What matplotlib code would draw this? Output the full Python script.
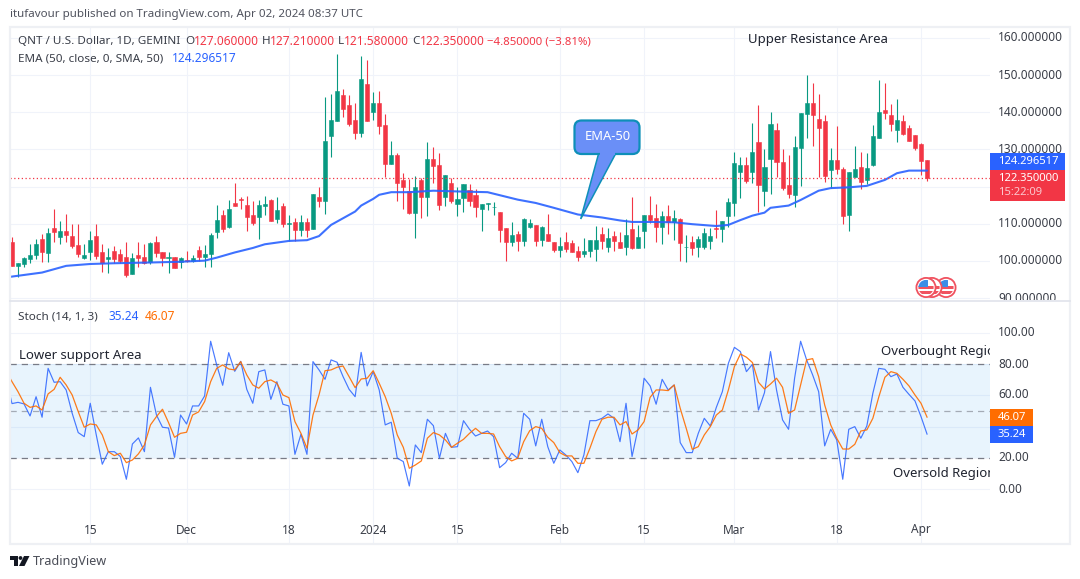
#!/usr/bin/env python3

import matplotlib
matplotlib.use("Agg")
import matplotlib.pyplot as plt
import numpy as np
from matplotlib.patches import Rectangle, Circle, Polygon, FancyBboxPatch

plt.rcParams['font.family'] = ['Noto Sans', 'DejaVu Sans']

### daily candles, index 0 is 2023-11-02, last one is 2024-04-02 ###
opens = [105.1, 98.7, 99.2, 100.5, 101.6, 105.9, 102.2, 108.9, 106.5, 108.1,
         106.7, 104.3, 100.7, 102.5, 106.7, 102.5, 100.5, 102.7, 101.9, 101.1,
         96.5, 101.6, 101.1, 99.6, 105.1, 102.4, 100.9, 101.1, 99.6, 100.2,
         100.0, 103.0, 101.2, 101.9, 107.9, 112.4, 109.2, 115.6, 116.7, 115.0,
         112.4, 111.7, 114.9, 116.5, 111.3, 114.8, 109.9, 110.5, 108.3, 110.5,
         108.6, 117.3, 116.0, 133.6, 137.5, 144.6, 141.9, 137.9, 134.5, 147.6,
         140.1, 142.4, 136.6, 126.2, 128.5, 121.8, 118.8, 113.0, 121.8, 117.3,
         127.4, 125.8, 117.3, 121.0, 115.3, 116.9, 119.1, 117.7, 114.1, 115.2,
         114.5, 113.2, 108.9, 105.2, 107.3, 105.5, 109.1, 109.7, 105.6, 107.3,
         105.1, 103.0, 105.1, 104.8, 102.7, 101.8, 102.7, 103.2, 107.3, 103.8,
         106.7, 105.1, 103.9, 108.6, 103.6, 108.1, 112.4, 111.5, 109.1, 112.1,
         110.6, 111.3, 103.7, 105.1, 103.8, 103.8, 105.4, 108.9, 108.6, 112.1,
         115.7, 123.9, 125.8, 123.9, 132.0, 118.8, 127.4, 135.2, 126.6, 120.4,
         117.7, 130.4, 139.5, 142.5, 138.2, 137.6, 124.5, 127.2, 124.7, 112.4,
         122.6, 125.3, 121.8, 125.8, 133.1, 140.6, 139.2, 135.2, 137.6, 135.8,
         133.9, 131.5, 127.06]
highs = [106.4, 99.4, 101.2, 104.6, 105.9, 107.3, 108.8, 114.0, 110.8, 112.6,
         110.0, 110.0, 104.6, 108.2, 110.0, 104.6, 103.4, 104.0, 103.1, 105.2,
         102.2, 105.2, 104.7, 105.2, 106.7, 102.4, 102.3, 101.1, 101.0, 102.8,
         101.6, 104.0, 104.3, 107.6, 115.0, 113.7, 116.4, 121.0, 117.3, 117.5,
         116.2, 116.4, 117.6, 116.7, 117.3, 115.5, 112.4, 111.5, 112.5, 111.5,
         118.0, 120.0, 144.0, 144.9, 155.6, 146.2, 144.6, 142.4, 155.0, 154.0,
         145.3, 145.7, 139.5, 132.3, 129.0, 123.6, 122.0, 122.8, 122.2, 131.9,
         130.6, 128.9, 123.1, 122.2, 120.0, 120.7, 120.6, 119.3, 115.2, 115.6,
         115.9, 113.2, 108.9, 110.4, 108.2, 111.5, 111.3, 109.7, 109.4, 112.6,
         105.1, 106.5, 107.7, 105.6, 104.0, 106.1, 105.6, 109.4, 109.2, 108.9,
         108.2, 107.9, 111.3, 117.1, 109.7, 112.4, 117.5, 115.3, 113.4, 115.0,
         113.7, 111.5, 107.0, 106.7, 106.7, 108.8, 108.8, 113.7, 110.8, 117.0,
         129.3, 127.9, 127.9, 137.1, 141.9, 130.1, 140.1, 137.0, 130.1, 128.5,
         133.6, 139.8, 150.0, 147.8, 144.9, 139.2, 130.4, 136.3, 125.3, 123.9,
         130.9, 129.3, 129.0, 136.6, 148.7, 147.8, 142.2, 143.5, 139.2, 136.6,
         133.9, 131.7, 127.21]
lows = [98.7, 95.6, 98.5, 99.4, 100.5, 99.8, 99.8, 105.2, 104.6, 105.2,
        103.4, 101.2, 100.5, 100.3, 100.5, 97.1, 96.9, 99.4, 99.4, 95.6,
        96.5, 98.5, 99.2, 99.2, 101.2, 98.7, 96.9, 98.2, 98.2, 99.8,
        99.8, 100.0, 98.3, 98.3, 106.3, 107.9, 109.0, 114.8, 113.9, 108.2,
        109.7, 105.9, 112.4, 110.7, 110.1, 109.2, 105.5, 105.5, 106.8, 106.5,
        108.6, 114.6, 112.6, 128.0, 137.5, 138.8, 136.3, 132.8, 133.2, 137.7,
        137.9, 134.1, 122.7, 126.2, 116.1, 113.9, 112.6, 106.3, 111.6, 112.2,
        121.0, 113.7, 114.8, 115.7, 112.2, 113.3, 114.8, 111.9, 108.1, 113.7,
        112.4, 105.2, 100.1, 104.0, 102.8, 104.1, 108.8, 104.0, 104.0, 105.5,
        102.3, 101.2, 102.3, 102.5, 100.1, 101.2, 101.2, 100.1, 103.2, 102.5,
        102.8, 103.4, 101.6, 103.1, 103.6, 103.6, 110.1, 105.1, 104.6, 107.3,
        105.6, 100.1, 99.6, 101.6, 101.2, 103.2, 103.2, 106.3, 105.2, 109.2,
        112.1, 116.9, 121.1, 121.0, 113.2, 114.8, 118.0, 122.6, 119.1, 116.9,
        114.6, 120.2, 133.1, 130.9, 122.6, 121.2, 119.6, 123.4, 109.9, 108.1,
        122.6, 119.4, 120.7, 125.5, 133.1, 138.2, 134.9, 132.0, 133.9, 132.3,
        129.8, 123.1, 121.58]
closes = [98.7, 99.4, 100.8, 101.6, 104.6, 102.5, 107.4, 107.9, 108.1, 107.0,
          104.0, 101.9, 101.6, 105.6, 101.4, 99.4, 101.1, 100.5, 100.1, 96.3,
          100.8, 100.8, 99.4, 104.8, 102.2, 100.9, 101.0, 98.2, 100.7, 100.0,
          100.7, 101.2, 102.0, 107.0, 111.0, 108.7, 114.0, 114.8, 116.5, 111.9,
          110.3, 115.0, 115.3, 110.8, 113.7, 110.0, 110.1, 108.3, 110.5, 108.3,
          118.0, 116.1, 132.3, 137.9, 145.7, 140.9, 136.8, 134.5, 149.0, 137.7,
          142.4, 136.4, 126.2, 128.5, 121.1, 119.9, 112.8, 119.9, 117.3, 127.4,
          125.6, 115.0, 123.1, 116.2, 116.7, 120.7, 116.0, 114.6, 115.2, 115.6,
          114.6, 108.4, 105.2, 107.0, 105.5, 111.3, 110.1, 105.5, 109.1, 105.5,
          103.0, 104.0, 103.2, 102.5, 101.2, 102.7, 105.6, 105.6, 105.5, 106.2,
          105.5, 103.6, 107.0, 103.4, 106.5, 112.4, 111.0, 109.1, 112.1, 110.6,
          111.6, 104.8, 103.8, 103.6, 105.9, 107.5, 106.7, 108.7, 110.8, 115.9,
          126.3, 125.8, 121.5, 129.3, 120.4, 125.3, 136.8, 126.6, 119.6, 118.0,
          130.6, 139.8, 142.5, 139.2, 135.8, 122.8, 127.2, 124.7, 112.1, 123.9,
          124.7, 121.2, 125.0, 133.6, 140.1, 139.8, 136.8, 137.9, 134.1, 132.3,
          130.4, 126.9, 122.35]

ema_days = [-1, 5, 9, 13, 17, 23, 28, 32, 34, 37, 40, 42, 46, 49, 51, 53, 55, 57, 58, 60,
            61, 63, 66, 70, 74, 79, 81, 84, 87, 90, 94, 98, 101, 103, 106, 110, 113, 117,
            119, 121, 123, 125, 126, 129, 131, 134, 136, 139, 142, 145, 147, 149, 152]
ema_values = [95.6, 96.9, 98.7, 99.2, 99.4, 99.6, 99.8, 100.1, 100.9, 102.3, 103.5, 104.5,
              105.4, 105.6, 106.7, 109.7, 111.5, 113.3, 114.9, 116.7, 117.8, 118.5, 118.5,
              118.9, 118.7, 118.5, 117.7, 116.5, 115.6, 114.3, 112.5, 111.7, 110.9, 110.5,
              110.5, 110.4, 109.9, 109.4, 109.7, 111.0, 112.2, 113.0, 114.3, 114.9, 116.4,
              118.9, 119.6, 119.8, 120.2, 121.8, 123.6, 124.3, 124.3]

### stochastic, starts one day before the first candle ###
stoch_k = [71.0, 54.7, 55.5, 54.5, 46.8, 59.1, 46.0, 77.2, 68.3, 68.7, 63.4,
           48.5, 36.2, 33.6, 54.9, 34.7, 16.0, 24.0, 24.0, 20.9, 6.4,
           28.9, 32.8, 24.0, 65.1, 47.4, 39.6, 39.1, 20.4, 47.4, 41.7,
           53.2, 53.2, 59.6, 94.5, 79.4, 66.4, 87.2, 75.3, 81.7, 63.8,
           54.9, 75.1, 76.2, 57.4, 68.7, 54.3, 53.2, 22.3, 35.1, 22.3,
           81.5, 76.2, 70.2, 82.6, 81.1, 71.9, 63.8, 59.1, 87.4, 66.0,
           75.1, 63.4, 41.1, 42.8, 19.8, 17.7, 2.1, 28.3, 23.4, 44.7,
           40.6, 19.8, 35.7, 26.8, 27.2, 43.8, 38.3, 34.0, 35.7, 37.2,
           33.6, 13.8, 17.0, 23.0, 19.8, 48.5, 44.7, 27.7, 44.7, 27.2,
           16.6, 25.1, 21.9, 17.7, 10.6, 21.9, 43.8, 43.8, 45.3, 48.1,
           45.3, 30.4, 54.9, 20.9, 38.9, 70.9, 66.0, 54.3, 70.2, 63.4,
           66.6, 29.8, 23.4, 23.4, 35.7, 45.3, 40.4, 52.3, 62.3, 80.4,
           90.6, 87.9, 75.1, 79.8, 50.6, 61.7, 87.9, 63.4, 44.3, 38.3,
           70.9, 94.5, 82.6, 73.0, 62.3, 27.7, 38.3, 31.5, 6.4, 38.3,
           40.0, 32.6, 40.4, 61.3, 77.2, 76.6, 71.9, 73.6, 65.1, 60.6,
           56.4, 46.4, 35.24]
stoch_d = [75.5, 68.7, 62.3, 54.9, 52.3, 53.2, 50.6, 60.9, 63.8, 71.5, 66.6,
           60.2, 49.6, 39.6, 41.7, 41.1, 34.7, 24.0, 21.5, 23.0, 17.0,
           18.7, 22.6, 28.3, 41.1, 46.4, 51.1, 42.6, 33.2, 35.7, 36.4,
           47.4, 49.4, 56.0, 68.7, 77.2, 79.4, 76.8, 76.2, 81.5, 73.0,
           66.6, 64.5, 68.7, 69.8, 67.7, 60.2, 58.5, 43.2, 35.7, 26.2,
           47.4, 60.2, 75.7, 76.2, 77.9, 78.7, 71.9, 64.9, 70.4, 70.9,
           75.7, 67.7, 59.1, 48.5, 34.7, 26.8, 13.4, 15.5, 18.1, 32.6,
           36.2, 34.7, 31.5, 26.8, 29.4, 31.9, 35.7, 38.9, 35.7, 35.7,
           35.3, 27.2, 20.9, 18.1, 19.8, 30.4, 37.4, 40.0, 38.9, 33.2,
           29.8, 23.4, 21.3, 21.3, 16.6, 16.6, 26.2, 36.8, 44.7, 46.0,
           46.0, 41.1, 43.2, 35.3, 37.9, 43.2, 58.7, 63.4, 63.4, 63.0,
           66.6, 51.7, 38.9, 25.5, 27.2, 34.7, 40.0, 47.4, 50.6, 63.4,
           78.3, 86.4, 84.3, 80.9, 68.3, 64.0, 67.2, 70.9, 65.1, 48.5,
           50.6, 66.6, 82.6, 83.4, 71.9, 53.8, 41.1, 32.6, 25.7, 25.7,
           28.7, 37.2, 37.9, 45.3, 59.1, 71.5, 75.1, 74.0, 70.2, 66.0,
           60.2, 54.9, 46.07]

price_ticks = [90, 100, 110, 120, 130, 140, 150, 160]
# 120 sits behind the last value boxes
price_tick_labels = ["90.000000", "100.000000", "110.000000", "", "130.000000",
                     "140.000000", "150.000000", "160.000000"]
stoch_ticks = [0, 20, 40, 60, 80, 100]
# 40 sits behind the last value boxes
stoch_tick_labels = ["0.00", "20.00", "", "60.00", "80.00", "100.00"]
date_ticks = [13, 29, 46, 60, 74, 91, 105, 120, 137, 151]
date_labels = ["15", "Dec", "18", "2024", "15", "Feb", "15", "Mar", "18", "Apr"]

last_close = 122.35

UP = "#089981"
DOWN = "#f23645"
BLUE = "#2962ff"
ORANGE = "#ff6d00"
GRID = "#f0f3fa"
TEXT = "#3a3e48"

W, H = 1080, 579
fig = plt.figure(figsize=(W / 100, H / 100), dpi=100, facecolor="white")


def make_pane(top, bottom):
    return fig.add_axes([10 / W, 1 - bottom / H, 980 / W, (bottom - top) / H])


ax1 = make_pane(27, 300)
ax2 = make_pane(301, 543)

# overlay in pixel coordinates for boxes, labels and the frame
ov = fig.add_axes([0, 0, 1, 1], zorder=5)
ov.set_xlim(0, W)
ov.set_ylim(H, 0)
ov.axis("off")
ov.patch.set_alpha(0)

xlim = (-0.33, 162.46)
for ax in (ax1, ax2):
    ax.set_xlim(*xlim)
    ax.set_xticks(date_ticks)
    ax.set_xticklabels([])
    ax.tick_params(length=0, labelleft=False)
    ax.grid(True, color=GRID, lw=0.8)
    ax.set_axisbelow(True)
    for s in ax.spines.values():
        s.set_visible(False)

ax1.set_ylim(89.52, 162.9)
ax1.set_yticks(price_ticks)
ax1.set_yticklabels([])
ax2.set_ylim(-34.3, 120.2)
ax2.set_yticks(stoch_ticks)
ax2.set_yticklabels([])

### candles ###
days = np.arange(len(opens))
o = np.array(opens)
c = np.array(closes)
colors = [UP if c[i] >= o[i] else DOWN for i in days]
ax1.vlines(days, lows, highs, colors=colors, lw=0.8, zorder=2)
ax1.bar(days, np.abs(c - o), bottom=np.minimum(o, c), width=0.68, color=colors,
        edgecolor=colors, lw=0.4, zorder=3)
ax1.plot(ema_days, ema_values, color=BLUE, lw=1.5, alpha=0.9, zorder=4, solid_capstyle="round")
ax1.axhline(last_close, color=DOWN, lw=0.9, ls=(0, (1, 2)), zorder=4)

### stochastic pane ###
stoch_days = np.arange(-1, len(stoch_k) - 1)
ax2.axhspan(20, 80, color="#2196f3", alpha=0.1, lw=0, zorder=1)
ax2.axhline(80, color="#787b86", lw=0.9, ls=(0, (5, 4)), zorder=2)
ax2.axhline(50, color="#787b86", lw=0.9, ls=(0, (5, 4)), alpha=0.6, zorder=2)
ax2.axhline(20, color="#787b86", lw=0.9, ls=(0, (5, 4)), zorder=2)
ax2.plot(stoch_days, stoch_k, color=BLUE, lw=0.85, alpha=0.85, zorder=3)
ax2.plot(stoch_days, stoch_d, color=ORANGE, lw=0.9, alpha=0.9, zorder=4)

### frame ###
ov.add_patch(Rectangle((9.5, 26.5), 1060.5, 517.5, fill=False, ec="#eef0f4", lw=1.6))
ov.plot([10, 1070], [300.5, 300.5], color="#e0e3eb", lw=1.2)

FS = 8.4
NUM = 8.55


def label(x, y, s, color=TEXT, size=FS, **kw):
    kw.setdefault("va", "center")
    kw.setdefault("ha", "left")
    return ov.text(x, y, s, color=color, fontsize=size, zorder=6, **kw)


def clip_to(t, x, y, w, h):
    t.set_clip_on(True)
    t.set_clip_path(Rectangle((x, y), w, h, transform=ov.transData))


### axis labels ###
price_y = [298, 261, 223.7, 186.5, 149.6, 112.5, 75.5, 37.7]
for y, s in zip(price_y, price_tick_labels):
    t = label(998, y, s, size=NUM)
    clip_to(t, 990, 27, 80, 273)
stoch_y = [489.3, 457.9, 426.5, 394.5, 364, 332.7]
for y, s in zip(stoch_y, stoch_tick_labels):
    label(998, y, s, size=NUM)
for d, s in zip(date_ticks, date_labels):
    label(12 + 6.02 * d, 530, s, ha="center", size=NUM, fontweight="bold" if s == "2024" else "normal")

### last value boxes, on top of the tick labels ###
ov.add_patch(Rectangle((990, 153.3), 75, 17, color=BLUE, lw=0, zorder=7))
ov.add_patch(Rectangle((990, 170.3), 75, 30.5, color=DOWN, lw=0, zorder=7))
ov.add_patch(Rectangle((990, 409), 43, 17, color=ORANGE, lw=0, zorder=7))
ov.add_patch(Rectangle((990, 426), 43, 17, color=BLUE, lw=0, zorder=7))
for x, y, s, col in [(998, 161.8, "124.296517", "white"), (998, 178.5, "122.350000", "white"),
                     (998, 192.5, "15:22:09", "#fbc7cd"), (998, 417.5, "46.07", "white"),
                     (998, 434.5, "35.24", "white")]:
    t = label(x, y, s, color=col, size=8.1, fontweight="bold")
    t.set_zorder(8)

### header text ###
label(10, 15, "itufavour published on TradingView.com, Apr 02, 2024 08:37 UTC", color="#50535e", size=8.3)
label(18, 41.5, "QNT / U.S. Dollar, 1D, GEMINI")
label(185, 41.5, "O")
label(194, 41.5, "127.060000", color=DOWN, size=NUM)
label(262, 41.5, "H")
label(270, 41.5, "127.210000", color=DOWN, size=NUM)
label(338, 41.5, "L")
label(344, 41.5, "121.580000", color=DOWN, size=NUM)
label(412, 41.5, "C")
label(420, 41.5, "122.350000", color=DOWN, size=NUM)
label(487, 41.5, "\u22124.850000 (\u22123.81%)", color=DOWN, size=8.2)
label(18, 59, "EMA (50, close, 0, SMA, 50)")
label(172, 59, "124.296517", color=BLUE, size=NUM)
label(18, 316.7, "Stoch (14, 1, 3)")
label(108.7, 316.7, "35.24", color=BLUE, size=NUM)
label(145, 316.7, "46.07", color=ORANGE, size=NUM)

### notes on the chart ###
label(748, 39.5, "Upper Resistance Area", color="#202430", size=9.5)
label(19, 356, "Lower support Area", color="#202430", size=9.5)
t = label(881, 351, "Overbought Region", color="#202430", size=9.5)
clip_to(t, 10, 301, 980, 242)
t = label(893, 473, "Oversold Region", color="#202430", size=9.5)
clip_to(t, 10, 301, 980, 242)

### EMA-50 callout ###
CALL_FILL = "#6a8ff7"
CALL_EDGE = "#0e8fb8"
ov.add_patch(FancyBboxPatch((574.5, 120.5), 65, 33.5, boxstyle="round,pad=0,rounding_size=7",
                            fc=CALL_FILL, ec=CALL_EDGE, lw=1.6, mutation_aspect=1))
ov.add_patch(Polygon([(598.5, 154), (580.7, 219), (615.5, 154)], closed=True, fc=CALL_FILL,
                     ec=CALL_EDGE, lw=1.1, joinstyle="miter"))
ov.add_patch(Rectangle((600, 150), 15, 4.6, fc=CALL_FILL, ec="none"))
label(607.5, 136, "EMA-50", color="white", ha="center", size=9.3)

### flag badges ###
for cx in (946, 932, 926):
    ov.add_patch(Circle((cx, 287.5), 9.6, fc="white", ec="#f0525f", lw=1.3))
    flag = Circle((cx, 287.5), 7.6, fc="white", ec="none")
    ov.add_patch(flag)
    for y0, hh in ((286, 3), (291.2, 3)):
        r = Rectangle((cx - 8, y0), 16, hh, fc="#f0525f", ec="none")
        ov.add_patch(r)
        r.set_clip_path(flag)
    r = Rectangle((cx - 8, 279.5), 9.5, 7.5, fc="#3a8ee6", ec="none")
    ov.add_patch(r)
    r.set_clip_path(flag)

### TradingView logo ###
ov.add_patch(Polygon([(10, 556), (18, 556), (18, 566), (14, 566), (14, 560), (10, 560)], fc="#131722", ec="none"))
ov.add_patch(Circle((20.5, 558), 1.9, fc="#131722", ec="none"))
ov.add_patch(Polygon([(24, 556), (29.5, 556), (24.5, 566), (19, 566)], fc="#131722", ec="none"))
label(33, 561.5, "TradingView", color="#4a4d57", size=9.1)

fig.savefig("out.png", dpi=100)
